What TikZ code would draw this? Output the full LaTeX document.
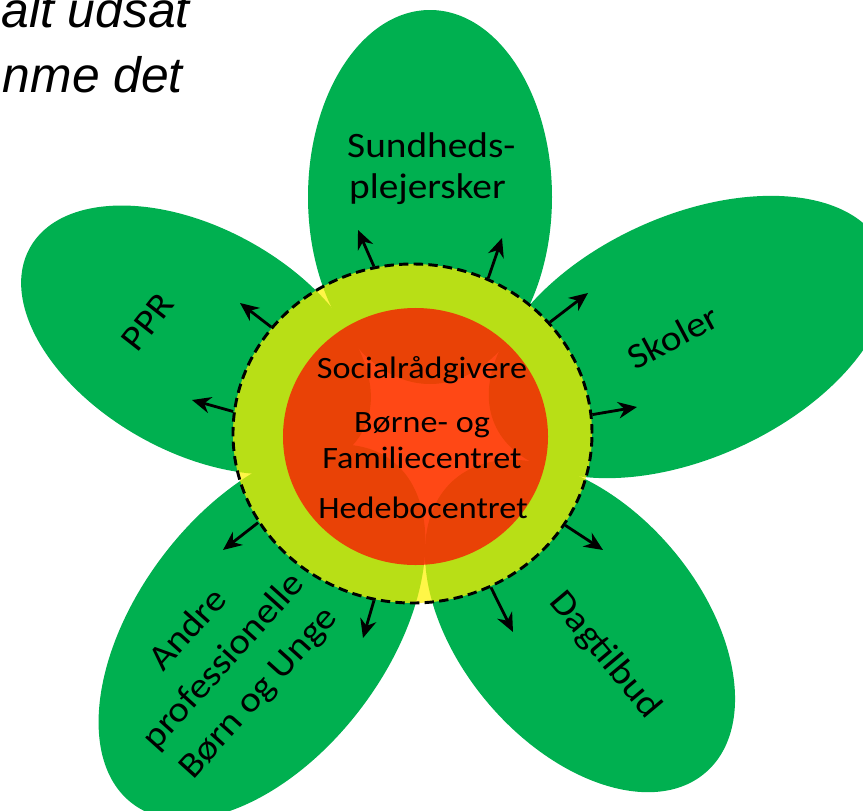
\documentclass[tikz,border=0pt]{standalone}
\usepackage{fontspec}
\setmainfont{Carlito}
\newfontfamily\slidefont{Liberation Sans}
\newfontfamily\petalfont[FakeStretch=1.1]{Carlito}
\usetikzlibrary{positioning, arrows.meta, shapes.geometric}
\definecolor{petalgreen}{HTML}{00B050}

\begin{document}
\begin{tikzpicture}[x=0.03cm, y=-0.03cm,
    petal/.style={fill=petalgreen},
    lbl/.style={font=\petalfont\fontsize{30.5}{40}\selectfont, align=center, inner sep=0pt},
    corelbl/.style={font=\petalfont\fontsize{26.5}{30}\selectfont, inner sep=0pt, anchor=base},
    arr/.style={-{Stealth[length=16pt, width=14pt]}, line width=2.4pt}]

    \useasboundingbox (0,0) rectangle (863,811);
    \clip (0,0) rectangle (863,811);

    % the five petals
    \fill[petal] (430,197) ellipse [x radius=122, y radius=187];
    \fill[petal, rotate around={24.5:(689,337)}] (689,337) ellipse [x radius=213, y radius=121];
    \fill[petal, rotate around={-29:(196,340)}] (196,340) ellipse [x radius=190, y radius=112];
    \fill[petal, rotate around={-49.5:(580,626)}] (580,626) ellipse [x radius=193, y radius=120];
    \fill[petal, rotate around={53:(262,632)}] (262,632) ellipse [x radius=215, y radius=125];

    % centre
    \node[ellipse, draw, line width=2.5pt, dash pattern=on 8pt off 4.5pt, fill=yellow, fill opacity=0.72,
          minimum width=10.77cm, minimum height=10.17cm, inner sep=0pt] (ring) at (412.5,433.5) {};
    \node[ellipse, fill=red, fill opacity=0.7, minimum width=7.95cm, minimum height=7.71cm,
          inner sep=0pt] (core) at (415.5,436.5) {};

    \node[corelbl] (soc) at (422,378) {Socialrådgivere};
    \node[corelbl] (bf1) at (422,432) {Børne- og};
    \node[corelbl] (bf2) at (422,468) {Familiecentret};
    \node[corelbl] (hed) at (423,518) {Hedebocentret};

    % petal labels
    \node[lbl, anchor=base west] (sun1) at (347,157) {Sundheds-};
    \node[lbl, anchor=base west] (sun2) at (349,198) {plejersker};
    \node[lbl, rotate=28] (sko) at (673,337) {Skoler};
    \node[lbl, rotate=52] (ppr) at (148,322) {PPR};
    \node[lbl, rotate=-50] (dag) at (605,655) {Dagtilbud};
    \node[lbl, rotate=48] (andre) at (224,662) {Andre\\professionelle\\Børn og Unge};

    % arrows out of the ring
    \foreach \ang/\px/\py [count=\i] in {103/358/230, 64/502/238, 39/588/293, 6/637/407,
            143/240/303, 173/192/400, 210/223/550, 257/363/638, -31/603/550, -63/513/632} {
        \coordinate (tip\i) at (\px,\py);
        \draw[arr] (ring.\ang) -- (tip\i);
    }

    % text cut off at the top left
    \node[font=\slidefont\itshape\fontsize{42.5}{55}\selectfont, anchor=base east, inner sep=0pt] (top1) at (190,27) {alt udsat};
    \node[font=\slidefont\itshape\fontsize{42.5}{55}\selectfont, anchor=base east, inner sep=0pt] (top2) at (183,92) {nme det};
\end{tikzpicture}
\end{document}
